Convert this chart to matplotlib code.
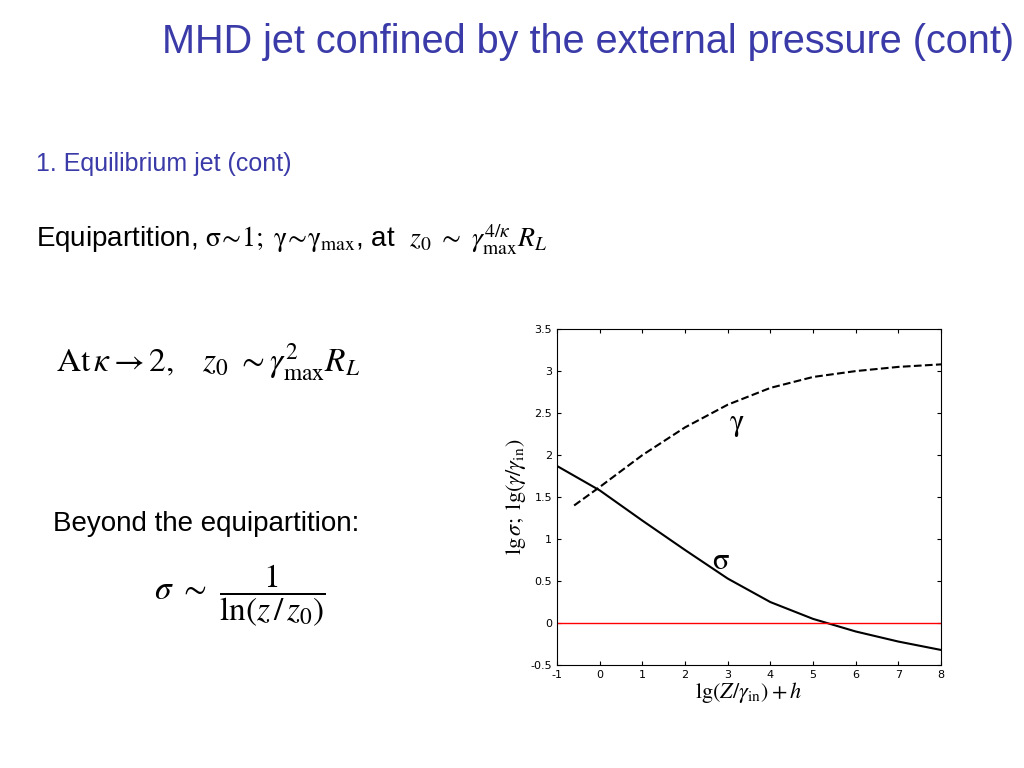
import matplotlib
matplotlib.use("Agg")
import matplotlib.pyplot as plt

x_gamma = [-0.6, 0, 1, 2, 3, 4, 5, 6, 7, 8]
y_gamma = [1.4, 1.62, 2.0, 2.33, 2.6, 2.8, 2.93, 3.0, 3.05, 3.08]
x_sigma = [-1, 0, 1, 2, 3, 4, 5, 6, 7, 8]
y_sigma = [1.87, 1.58, 1.22, 0.87, 0.53, 0.25, 0.05, -0.1, -0.22, -0.32]
xticks = [-1, 0, 1, 2, 3, 4, 5, 6, 7, 8]
yticks = [-0.5, 0, 0.5, 1, 1.5, 2, 2.5, 3, 3.5]

plt.rcParams['mathtext.fontset'] = 'stix'
fig = plt.figure(figsize=(10.24, 7.68), dpi=100)
fig.text(0.574, 0.945, "MHD jet confined by the external pressure (cont)", ha='center', va='center',
         fontsize=28.5, color='#3a3aa8', family='Liberation Sans')
fig.text(0.035, 0.787, "1. Equilibrium jet (cont)", fontsize=18, color='#3a3aa8', va='center', family='Liberation Sans')
fig.text(0.035, 0.688, r"Equipartition, $\mathrm{\sigma\!\sim\!1;\ \gamma\!\sim\!\gamma}_{\rm max}$, at  $z_0\ \sim\ \gamma_{\rm max}^{4/\kappa}R_L$",
         fontsize=20, va='center', family='Liberation Sans')
fig.text(0.055, 0.528, r"$\mathrm{At}\,\kappa\rightarrow2,\quad z_0\ \sim\gamma_{\rm max}^{2}R_L$", fontsize=24, va='center')
fig.text(0.052, 0.318, "Beyond the equipartition:", fontsize=20, va='center', family='Liberation Sans')
fig.text(0.15, 0.225, r"$\sigma\ \sim\ \dfrac{1}{\ln\!\left(z\,/\,z_0\right)}$", fontsize=24, va='center')

ax = fig.add_axes([0.544, 0.134, 0.375, 0.4375])
ax.plot(x_gamma, y_gamma, 'k--', lw=1.5)
ax.plot(x_sigma, y_sigma, 'k-', lw=1.5)
ax.axhline(0, color='red', lw=1)
ax.set_xlim(-1, 8)
ax.set_ylim(-0.5, 3.5)
ax.set_xticks(xticks)
ax.set_yticks(yticks)
ax.set_xticklabels([str(t) for t in xticks])
ax.set_yticklabels([('%g' % t) for t in yticks])
ax.tick_params(labelsize=8, direction='in', top=True, right=True, length=3)
ax.text(3.2, 2.36, r"$\mathrm{\gamma}$", fontsize=22, va='center', ha='center')
ax.text(2.85, 0.75, r"$\mathrm{\sigma}$", fontsize=22, va='center', ha='center')
ax.set_xlabel(r"$\lg(Z/\gamma_{\rm in})+h$", fontsize=16, labelpad=0)
ax.set_ylabel(r"$\lg\sigma;\ \lg(\gamma/\gamma_{\rm in})$", fontsize=16, labelpad=2)
fig.savefig("out.png", dpi=100)
